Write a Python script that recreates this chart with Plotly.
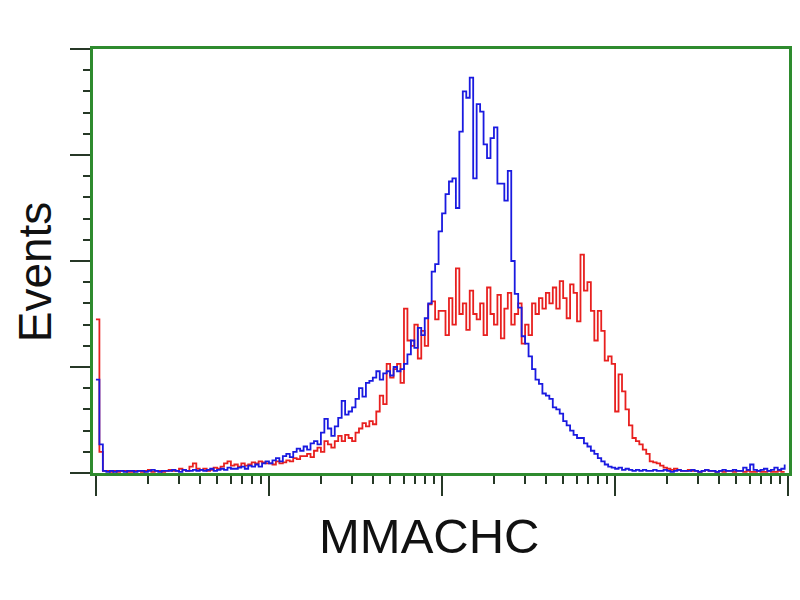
import numpy as np
import plotly.graph_objects as go

# channel index (200 channels over 4 log decades, 0.02 decade each)
channels = list(range(200))

blue_counts = [
    88, 27, 2, 1, 2, 1, 2, 2, 1, 2,
    2, 1, 2, 2, 1, 2, 3, 2, 1, 2,
    2, 2, 3, 2, 1, 3, 2, 2, 3, 2,
    3, 2, 3, 4, 2, 3, 4, 3, 5, 4,
    4, 5, 6, 4, 7, 6, 8, 6, 9, 11,
    9, 12, 14, 11, 16, 18, 15, 20, 23, 21,
    25, 22, 28, 30, 27, 38, 51, 42, 35, 44,
    52, 68, 55, 58, 62, 70, 80, 72, 85, 87,
    90, 96, 88, 94, 96, 92, 100, 96, 98, 103,
    112, 125, 118, 137, 130, 146, 160, 190, 197, 228,
    245, 263, 275, 278, 250, 322, 360, 354, 373, 278,
    348, 341, 310, 297, 316, 326, 273, 273, 257, 285,
    200, 169, 156, 129, 122, 110, 98, 88, 84, 75,
    73, 70, 62, 60, 56, 49, 45, 40, 36, 33,
    33, 28, 25, 21, 18, 14, 11, 8, 6, 5,
    4, 5, 3, 4, 3, 2, 3, 2, 3, 2,
    2, 3, 2, 2, 3, 2, 1, 2, 3, 2,
    2, 2, 3, 2, 1, 2, 3, 2, 2, 1,
    2, 3, 2, 2, 3, 2, 2, 5, 3, 8,
    3, 2, 3, 4, 2, 3, 5, 3, 4, 8,
]

red_counts = [
    145, 20, 2, 2, 1, 2, 1, 2, 2, 1,
    1, 2, 2, 1, 2, 3, 1, 2, 2, 1,
    2, 3, 2, 2, 4, 3, 2, 6, 9, 4,
    3, 4, 2, 3, 5, 4, 6, 9, 11, 7,
    8, 6, 9, 7, 8, 10, 9, 11, 10, 9,
    9, 8, 11, 9, 10, 12, 11, 14, 13, 16,
    16, 18, 15, 21, 24, 20, 30, 27, 24, 30,
    35, 30, 36, 33, 30, 38, 42, 47, 44, 49,
    46, 58, 73, 65, 103, 90, 98, 103, 85, 155,
    125, 120, 140, 108, 134, 120, 159, 162, 145, 153,
    153, 130, 165, 140, 193, 150, 160, 135, 172, 150,
    145, 160, 130, 175, 150, 140, 168, 127, 155, 170,
    140, 150, 160, 122, 140, 130, 160, 150, 165, 155,
    170, 160, 175, 155, 181, 165, 146, 178, 170, 143,
    206, 172, 180, 153, 125, 153, 134, 106, 110, 103,
    58, 93, 77, 60, 45, 33, 30, 27, 22, 18,
    11, 10, 9, 7, 5, 4, 3, 4, 3, 2,
    2, 3, 2, 2, 1, 2, 3, 2, 2, 1,
    2, 1, 2, 2, 1, 2, 2, 1, 2, 1,
    1, 2, 1, 1, 2, 1, 1, 2, 1, 1,
]

x_title = "MMACHC"
y_title = "Events"

major_x_ticks = [1, 10, 100, 1000, 10000]
minor_x_ticks = [m * d for d in [1, 10, 100, 1000] for m in range(2, 10)]
major_y_ticks = [0, 100, 200, 300, 400]

# channel -> fluorescence intensity (log scale, 4 decades)
x_vals = [10 ** (c * 0.02) for c in channels]

GREEN = "#2e8b2e"
TICK = "#263826"

fig = go.Figure()
fig.add_trace(go.Scatter(x=x_vals, y=red_counts, mode="lines",
                         line=dict(color="#e8201f", width=1.8, shape="hv"),
                         showlegend=False))
fig.add_trace(go.Scatter(x=x_vals, y=blue_counts, mode="lines",
                         line=dict(color="#1a1ae0", width=1.8, shape="hv"),
                         showlegend=False))

fig.update_layout(
    width=800, height=600,
    margin=dict(l=85, r=19, t=41, b=135),
    paper_bgcolor="white", plot_bgcolor="white",
    font=dict(family="Liberation Sans, Arial, sans-serif", color="#111111"),
    xaxis=dict(type="log", range=[-0.017, 4.005], showgrid=False, zeroline=False,
               automargin=False,
               showline=True, linecolor=GREEN, linewidth=3, mirror=True,
               ticks="outside", ticklen=20, tickwidth=2, tickcolor=TICK,
               tickmode="array", tickvals=major_x_ticks, showticklabels=False,
               minor=dict(ticks="outside", ticklen=8, tickwidth=2, tickcolor=TICK,
                          tickmode="array", tickvals=minor_x_ticks, showgrid=False)),
    yaxis=dict(range=[0, 400], showgrid=False, zeroline=False,
               automargin=False,
               showline=True, linecolor=GREEN, linewidth=3, mirror=True,
               ticks="outside", ticklen=20, tickwidth=2, tickcolor=TICK,
               tickmode="array", tickvals=major_y_ticks, showticklabels=False,
               minor=dict(ticks="outside", ticklen=7, tickwidth=2, tickcolor=TICK,
                          dtick=20, showgrid=False)),
    annotations=[
        dict(text=x_title, xref="paper", yref="paper", x=0.483, y=-0.1486,
             xanchor="center", yanchor="middle", showarrow=False,
             font=dict(size=49, color="#111111")),
        dict(text=y_title, xref="paper", yref="paper", x=-0.083, y=0.474,
             xanchor="center", yanchor="middle", showarrow=False, textangle=-90,
             font=dict(size=46, color="#111111")),
    ],
)

fig.write_html("out.html")
